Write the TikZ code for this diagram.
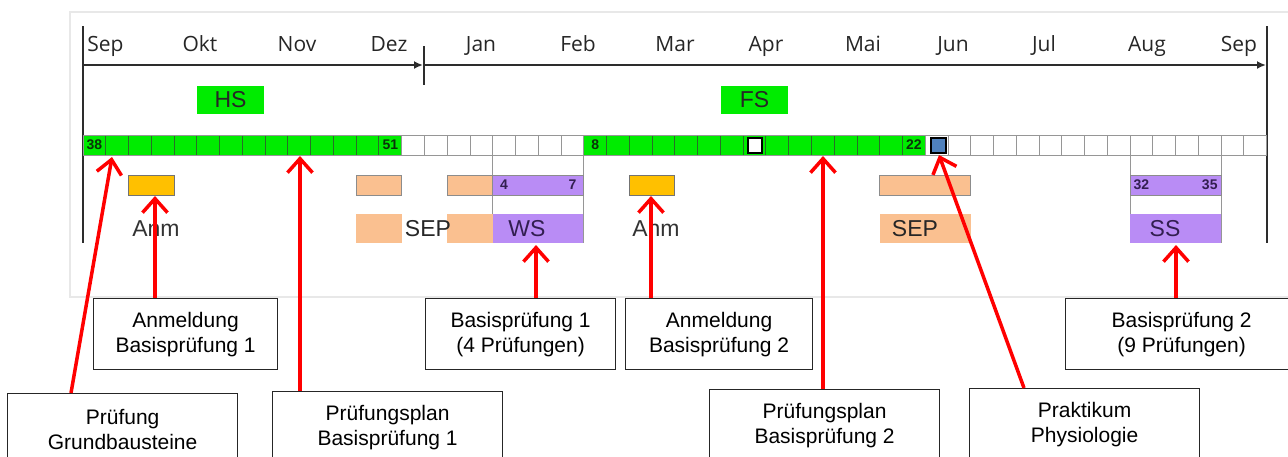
\documentclass[tikz,border=0pt]{standalone}
\usepackage{fontspec}
\setmainfont{Liberation Sans}
\newfontfamily\monthfont{Open Sans}
\usetikzlibrary{arrows.meta,calc}
\definecolor{grn}{RGB}{0,236,0}
\definecolor{gold}{RGB}{255,192,0}
\definecolor{peach}{RGB}{250,192,144}
\definecolor{lilac}{RGB}{185,140,245}
\definecolor{bluesq}{RGB}{79,129,189}
\definecolor{gridgray}{RGB}{150,150,150}
\definecolor{greengrid}{RGB}{40,110,40}
\definecolor{axisgray}{RGB}{45,45,45}
\definecolor{darkpurple}{RGB}{50,30,80}
\definecolor{darkgreen}{RGB}{10,50,10}
\def\w{22.763}
\begin{document}
\begin{tikzpicture}[x=1pt,y=-1pt,
  gridline/.style={draw=gridgray,line width=0.9},
  axisline/.style={draw=axisgray,line width=2},
  axisarrow/.style={draw=axisgray,line width=1.8,-{Latex[length=9,width=8]}},
  month/.style={font=\monthfont\fontsize{21}{21}\selectfont,text=black!85,anchor=base,inner sep=0},
  sem/.style={fill=grn,minimum width=67,minimum height=28,inner sep=0,font=\fontsize{23}{23}\selectfont,text=black!85},
  wk/.style={font=\bfseries\fontsize{14}{14}\selectfont,inner sep=0},
  rowtxt/.style={font=\fontsize{23}{23}\selectfont,inner sep=0},
  lbl/.style={draw=black!85,line width=1.2,fill=white,align=center,anchor=north west,
    minimum height=71,inner sep=0,font=\fontsize{21}{25}\selectfont},
  redarrow/.style={draw=red,line width=3.5,-{Straight Barb[length=14,width=25]}}
]
\useasboundingbox (0,0) rectangle (1288,456);
\clip (0,0) rectangle (1288,456);
% panel
\draw[draw=black!9,line width=1.5] (70,12) rectangle (1300,297);
% axis
\draw[axisline] (83,26) -- (83,243);
\draw[axisline] (1266.7,26) -- (1266.7,243);
\draw[axisline] (424,46) -- (424,85);
\draw[axisarrow] (83,65) -- (423,65);
\draw[axisarrow] (424,65) -- (1266,65);
% months
\foreach \m/\x in {Sep/105.5,Okt/200,Nov/297,Dez/389,Jan/481,Feb/578,Mar/675,Apr/766,Mai/863,Jun/953,Jul/1044,Aug/1147,Sep/1239}
  \node[month] at (\x,51) {\m};
% semesters
\node[sem] (hs) at (230.5,100) {HS};
\node[sem] (fs) at (754.5,100) {FS};
% weeks row
\fill[grn] (83,135) rectangle ({83+14*\w},155);
\fill[grn] ({83+22*\w},135) rectangle ({83+37*\w},155);
\foreach \i in {1,...,51} \draw[gridline] ({83+\i*\w},135) -- ({83+\i*\w},155);
\foreach \i in {1,...,13,23,24,...,36} \draw[draw=greengrid,line width=0.9] ({83+\i*\w},135) -- ({83+\i*\w},155);
\draw[gridline] (83,135) rectangle (1266.7,155);
\node[wk,text=darkgreen] (w38) at ({83+0.5*\w},145) {38};
\node[wk,text=darkgreen] (w51) at ({83+13.5*\w},145) {51};
\node[wk,text=darkgreen] (w8) at ({83+22.5*\w},145) {8};
\node[wk,text=darkgreen] (w22) at ({83+36.5*\w},145) {22};
\node[draw=black,line width=2,fill=white,minimum width=14,minimum height=15,inner sep=0] (sqw) at (755,145) {};
\node[draw=black,line width=2,fill=bluesq,minimum width=15,minimum height=15,inner sep=0] (sqb) at (938.5,145) {};
% vertical guide lines
\foreach \c in {18,22,46,50} \draw[gridline] ({83+\c*\w},155) -- ({83+\c*\w},243);
% row 2
\draw[fill=gold,draw=black!55,line width=0.9] ({83+2*\w},175) rectangle ({83+4*\w},195);
\draw[fill=peach,draw=black!45,line width=0.9] ({83+12*\w},175) rectangle ({83+14*\w},195);
\draw[fill=peach,draw=black!45,line width=0.9] ({83+16*\w},175) rectangle ({83+18*\w},195);
\draw[fill=lilac,draw=black!45,line width=0.9] ({83+18*\w},175) rectangle ({83+22*\w},195);
\draw[fill=gold,draw=black!55,line width=0.9] ({83+24*\w},175) rectangle ({83+26*\w},195);
\draw[fill=peach,draw=black!45,line width=0.9] ({83+35*\w},175) rectangle ({83+39*\w},195);
\draw[fill=lilac,draw=black!45,line width=0.9] ({83+46*\w},175) rectangle ({83+50*\w},195);
\node[wk,text=darkpurple] (w4) at ({83+18.5*\w},185) {4};
\node[wk,text=darkpurple] (w7) at ({83+21.5*\w},185) {7};
\node[wk,text=darkpurple] (w32) at ({83+46.5*\w},185) {32};
\node[wk,text=darkpurple] (w35) at ({83+49.5*\w},185) {35};
% row 3
\fill[peach] ({83+12*\w},214) rectangle ({83+14*\w},243);
\fill[peach] ({83+16*\w},214) rectangle ({83+18*\w},243);
\fill[lilac] ({83+18*\w},214) rectangle ({83+22*\w},243);
\fill[peach] ({83+35*\w},214) rectangle ({83+39*\w},243);
\fill[lilac] ({83+46*\w},214) rectangle ({83+50*\w},243);
\foreach \c in {22,50} \draw[gridline] ({83+\c*\w},214) -- ({83+\c*\w},243);
\node[rowtxt,text=black!80] (anmA) at (156,229) {Anm};
\node[rowtxt,text=black!85] (sepA) at (428,229) {SEP};
\node[rowtxt,text=darkpurple] (ws) at (527,229) {WS};
\node[rowtxt,text=black!80] (anmB) at (656,229) {Anm};
\node[rowtxt,text=black!85] (sepB) at (915,229) {SEP};
\node[rowtxt,text=darkpurple] (ss) at (1165,229) {SS};
% label boxes
\node[lbl,minimum width=230] (gb) at (7,393) {Prüfung\\Grundbausteine};
\node[lbl,minimum width=184] (anm1) at (93,298) {Anmeldung\\Basisprüfung 1};
\node[lbl,minimum width=230] (pp1) at (272,391) {Prüfungsplan\\Basisprüfung 1};
\node[lbl,minimum width=190] (bp1) at (425,298) {Basisprüfung 1\\(4 Prüfungen)};
\node[lbl,minimum width=187] (anm2) at (625,298) {Anmeldung\\Basisprüfung 2};
\node[lbl,minimum width=230] (pp2) at (709,389) {Prüfungsplan\\Basisprüfung 2};
\node[lbl,minimum width=230] (prak) at (969,388) {Praktikum\\Physiologie};
\node[lbl,minimum width=232] (bp2) at (1065,298) {Basisprüfung 2\\(9 Prüfungen)};
% arrow tips
\coordinate (t1) at (112,157);
\coordinate (t2) at (155,196);
\coordinate (t3) at (300,156);
\coordinate (t4) at (536,245);
\coordinate (t5) at (651,196);
\coordinate (t6) at (823,156);
\coordinate (t7) at (939,155);
\coordinate (t8) at (1176,245);
\draw[redarrow] ($(gb.north west)+(64,0)$) -- (t1);
\draw[redarrow] (anm1.north -| t2) -- (t2);
\draw[redarrow] (pp1.north -| t3) -- (t3);
\draw[redarrow] (bp1.north -| t4) -- (t4);
\draw[redarrow] (anm2.north -| t5) -- (t5);
\draw[redarrow] (pp2.north -| t6) -- (t6);
\draw[redarrow] ($(prak.north west)+(55,0)$) -- (t7);
\draw[redarrow] (bp2.north -| t8) -- (t8);
\end{tikzpicture}
\end{document}
